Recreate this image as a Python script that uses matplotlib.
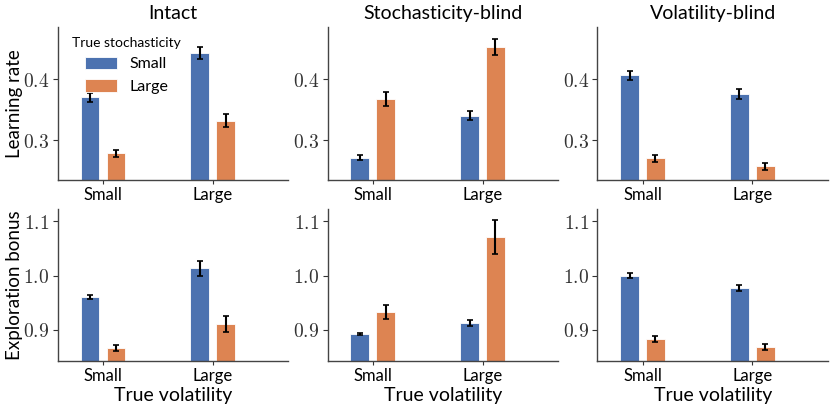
import matplotlib
matplotlib.use('Agg')
import matplotlib.pyplot as plt
import matplotlib.ticker as mticker
import numpy as np

MODELS = ['Intact', 'Stochasticity-blind', 'Volatility-blind']
VOLATILITY = ['Small', 'Large']
STOCHASTICITY = ['Small', 'Large']

# learning rate: [model][stochasticity][volatility]
LR_MEAN = [
    [[0.370, 0.443], [0.278, 0.332]],
    [[0.271, 0.340], [0.367, 0.453]],
    [[0.406, 0.375], [0.270, 0.257]],
]
LR_ERR = [
    [[0.007, 0.010], [0.006, 0.010]],
    [[0.004, 0.007], [0.012, 0.013]],
    [[0.008, 0.008], [0.006, 0.006]],
]

# exploration bonus
EB_MEAN = [
    [[0.960, 1.013], [0.867, 0.911]],
    [[0.893, 0.913], [0.933, 1.071]],
    [[1.000, 0.977], [0.883, 0.869]],
]
EB_ERR = [
    [[0.004, 0.013], [0.005, 0.014]],
    [[0.002, 0.006], [0.013, 0.031]],
    [[0.004, 0.005], [0.006, 0.006]],
]

COLORS = ['#4C72B0', '#DD8452']

plt.rcParams['font.family'] = ['Lato', 'DejaVu Sans']
plt.rcParams['mathtext.fontset'] = 'cm'

fig, axes = plt.subplots(2, 3, figsize=(8.39, 4.13), dpi=100)
fig.subplots_adjust(left=0.069, right=0.987, top=0.934, bottom=0.126,
                    wspace=0.17, hspace=0.19)

rows = [(LR_MEAN, LR_ERR, 'Learning rate', (0.235, 0.485), [0.3, 0.4]),
        (EB_MEAN, EB_ERR, 'Exploration bonus', (0.843, 1.123), [0.9, 1.0, 1.1])]

x = np.arange(len(VOLATILITY))
width = 0.17
offset = 0.118

for r, (mean, err, ylabel, ylim, yticks) in enumerate(rows):
    for c, model in enumerate(MODELS):
        ax = axes[r, c]
        for s, stoch in enumerate(STOCHASTICITY):
            ax.bar(x + (2 * s - 1) * offset, mean[c][s], width,
                   yerr=err[c][s], color=COLORS[s], edgecolor='white',
                   linewidth=0.6, label=stoch,
                   error_kw={'ecolor': 'black', 'elinewidth': 1.5,
                             'capsize': 2.5, 'capthick': 1.2})
        ax.set_xlim(-0.41, 1.69)
        ax.set_ylim(*ylim)
        ax.set_yticks(yticks)
        ax.yaxis.set_major_formatter(mticker.FormatStrFormatter('$%.1f$'))
        ax.set_xticks(x)
        ax.set_xticklabels(VOLATILITY, fontsize=12)
        ax.tick_params(axis='y', labelsize=14, colors='#333333', labelcolor='#333333', pad=2.5)
        ax.tick_params(axis='x', colors='#333333', labelcolor='black', length=3, pad=2)
        for side in ['top', 'right']:
            ax.spines[side].set_visible(False)
        for side in ['left', 'bottom']:
            ax.spines[side].set_color('#444444')
            ax.spines[side].set_linewidth(1.0)
        if r == 0:
            ax.set_title(model, fontsize=14)
        else:
            ax.set_xlabel('True volatility', fontsize=14, labelpad=2)
        if c == 0:
            ax.set_ylabel(ylabel, fontsize=13.5)
            ax.yaxis.set_label_coords(-0.15, 0.5)

leg = axes[0, 0].legend(title='True stochasticity', loc='upper left',
                        bbox_to_anchor=(0.02, 1.0), frameon=False,
                        fontsize=11.5, title_fontsize=10,
                        handlelength=2.0, handleheight=0.8,
                        labelspacing=0.5, handletextpad=0.8,
                        borderaxespad=0.2)

fig.savefig('out.png', dpi=100)
